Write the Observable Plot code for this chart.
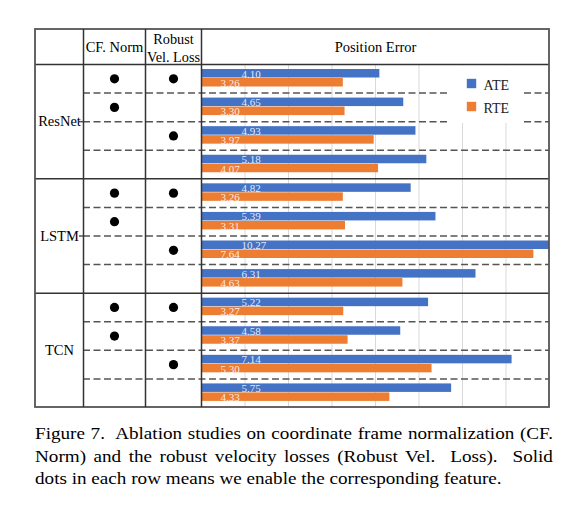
<!DOCTYPE html>
<html><head><meta charset="utf-8">
<script src="https://cdn.jsdelivr.net/npm/d3@7"></script>
<script src="https://cdn.jsdelivr.net/npm/@observablehq/plot@0.6"></script>
<style>
body{margin:0;background:#fff;}
#wrap{position:relative;width:562px;height:507px;overflow:hidden;}
#chart{position:absolute;left:0;top:0;}
#caption{position:absolute;left:35px;top:423px;width:446.5px;font-family:"Liberation Serif",serif;font-size:16.5px;line-height:22.6px;color:#000;transform:scaleX(1.16);transform-origin:0 0;}
#caption .j{text-align:justify;text-align-last:justify;white-space:nowrap;}
#caption .l{text-align:left;white-space:nowrap;}
</style>
</head><body>
<div id="wrap"><div id="chart"></div>
<div id="caption">
<div class="j">Figure 7.&nbsp; Ablation studies on coordinate frame normalization (CF.</div>
<div class="j">Norm) and the robust velocity losses (Robust Vel.&nbsp; Loss).&nbsp; Solid</div>
<div class="l">dots in each row means we enable the corresponding feature.</div>
</div></div>
<script>
// ---- data ----
const models = ["ResNet", "LSTM", "TCN"];
const cfNorm = [true, true, false, false];       // per row within each model
const robustVel = [true, false, true, false];    // per row within each model
const series = ["ATE", "RTE"];
const ate = [4.10, 4.65, 4.93, 5.18, 4.82, 5.39, 10.27, 6.31, 5.22, 4.58, 7.14, 5.75];
const rte = [3.26, 3.30, 3.97, 4.07, 3.26, 3.31, 7.64, 4.63, 3.27, 3.37, 5.30, 4.33];
const xTicks = [1, 2, 3, 4, 5, 6, 7];
const headerCF = "CF. Norm";
const headerRobust = "Robust\nVel. Loss";
const headerPos = "Position Error";

// ---- layout (pixels) ----
const W = 562, H = 412;
const L = 35, C1 = 83, C2 = 145, X0 = 201, R = 549, T = 29, HB = 64, B = 407;
const XMAX = 8, NROWS = 12;
const UNIT = (R - X0) / XMAX, ROW = (B - HB) / NROWS;
const X = px => (px - X0) / UNIT;
const Y = px => (px - HB) / ROW;

const rows = [];
models.forEach((m, g) => cfNorm.forEach((cf, k) => {
  const i = g * 4 + k;
  rows.push({i, model: m, cf, robust: robustVel[k], ATE: ate[i], RTE: rte[i]});
}));
const bars = rows.flatMap(r => series.map(s => ({i: r.i, series: s, value: r[s]})));
const dashRows = d3.range(1, NROWS).filter(d => d % 4 !== 0);
const groupRows = [4, 8];

const serif = "Liberation Serif, Times New Roman, serif";

const chart = Plot.plot({
  width: W, height: H,
  marginLeft: X0, marginRight: W - R, marginTop: HB, marginBottom: H - B,
  style: {fontFamily: serif, fontSize: "14px", background: "white", color: "black"},
  x: {domain: [0, XMAX], axis: null},
  y: {domain: [0, NROWS], reverse: true, axis: null},
  color: {domain: series, range: ["#4472C4", "#ED7D31"]},
  marks: [
    Plot.ruleX(xTicks, {y1: 0, y2: NROWS, stroke: "#d9d9d9", strokeWidth: 1}),
    Plot.ruleY(dashRows, {x1: X(C1), x2: X(R), stroke: "#555", strokeWidth: 1.5, strokeDasharray: "7,3.5"}),
    Plot.ruleY([2, 6], {x1: X(79), x2: X(C1), stroke: "#555", strokeWidth: 1.5}),
    Plot.rect([0], {x1: X(449), x2: X(524), y1: Y(65.5), y2: Y(123), fill: "white"}),
    Plot.rect(bars, {
      x1: 0, x2: "value",
      y1: d => d.i + (d.series === "ATE" ? 5 : 14) / ROW,
      y2: d => d.i + (d.series === "ATE" ? 13.5 : 22.5) / ROW,
      fill: "series", clip: true
    }),
    Plot.text(bars, {
      x: d => d.series === "ATE" ? X(241) : X(220),
      y: d => d.i + (d.series === "ATE" ? 13 : 22.3) / ROW,
      text: d => d.value.toFixed(2),
      textAnchor: "start", lineAnchor: "bottom",
      fill: "white", fillOpacity: 0.88, fontSize: 11
    }),
    Plot.ruleY([0, ...groupRows], {x1: X(L), x2: X(R), stroke: "#333", strokeWidth: 1.5}),
    Plot.rect([0], {x1: X(L), x2: X(R), y1: Y(T), y2: Y(B), fill: "none", stroke: "#555", strokeWidth: 1.8}),
    Plot.ruleX([C1, C2, X0].map(X), {y1: Y(T), y2: Y(B), stroke: "#333", strokeWidth: 1.5}),
    Plot.dot(rows.filter(r => r.cf), {x: X((C1 + C2) / 2), y: r => r.i + 0.5, r: 4.6, fill: "black", stroke: "none"}),
    Plot.dot(rows.filter(r => r.robust), {x: X((C2 + X0) / 2), y: r => r.i + 0.5, r: 4.6, fill: "black", stroke: "none"}),
    Plot.text(models, {x: X((L + C1) / 2), y: (d, i) => i * 4 + 2, text: d => d, fontSize: 14.5, textAnchor: "middle"}),
    Plot.text([headerCF], {x: X((C1 + C2) / 2), y: Y(51.5), text: d => d, fontSize: 14.5, lineAnchor: "bottom"}),
    Plot.text([headerRobust], {x: X((C2 + X0) / 2), y: Y(61.5), text: d => d, fontSize: 14.3, lineAnchor: "bottom", lineHeight: 18 / 14.3}),
    Plot.text([headerPos], {x: XMAX / 2, y: Y(51.5), text: d => d, fontSize: 14.5, lineAnchor: "bottom"}),
    Plot.dot(series, {x: X(471), y: (d, i) => Y(83 + i * 23), fill: d => d, symbol: "square", r: 5.3, stroke: "none"}),
    Plot.text(series, {x: X(483), y: (d, i) => Y(89.3 + i * 23), text: d => d, fontSize: 14, textAnchor: "start", lineAnchor: "bottom", fill: "#222"})
  ]
});
document.getElementById("chart").appendChild(chart);
</script>
</body></html>
